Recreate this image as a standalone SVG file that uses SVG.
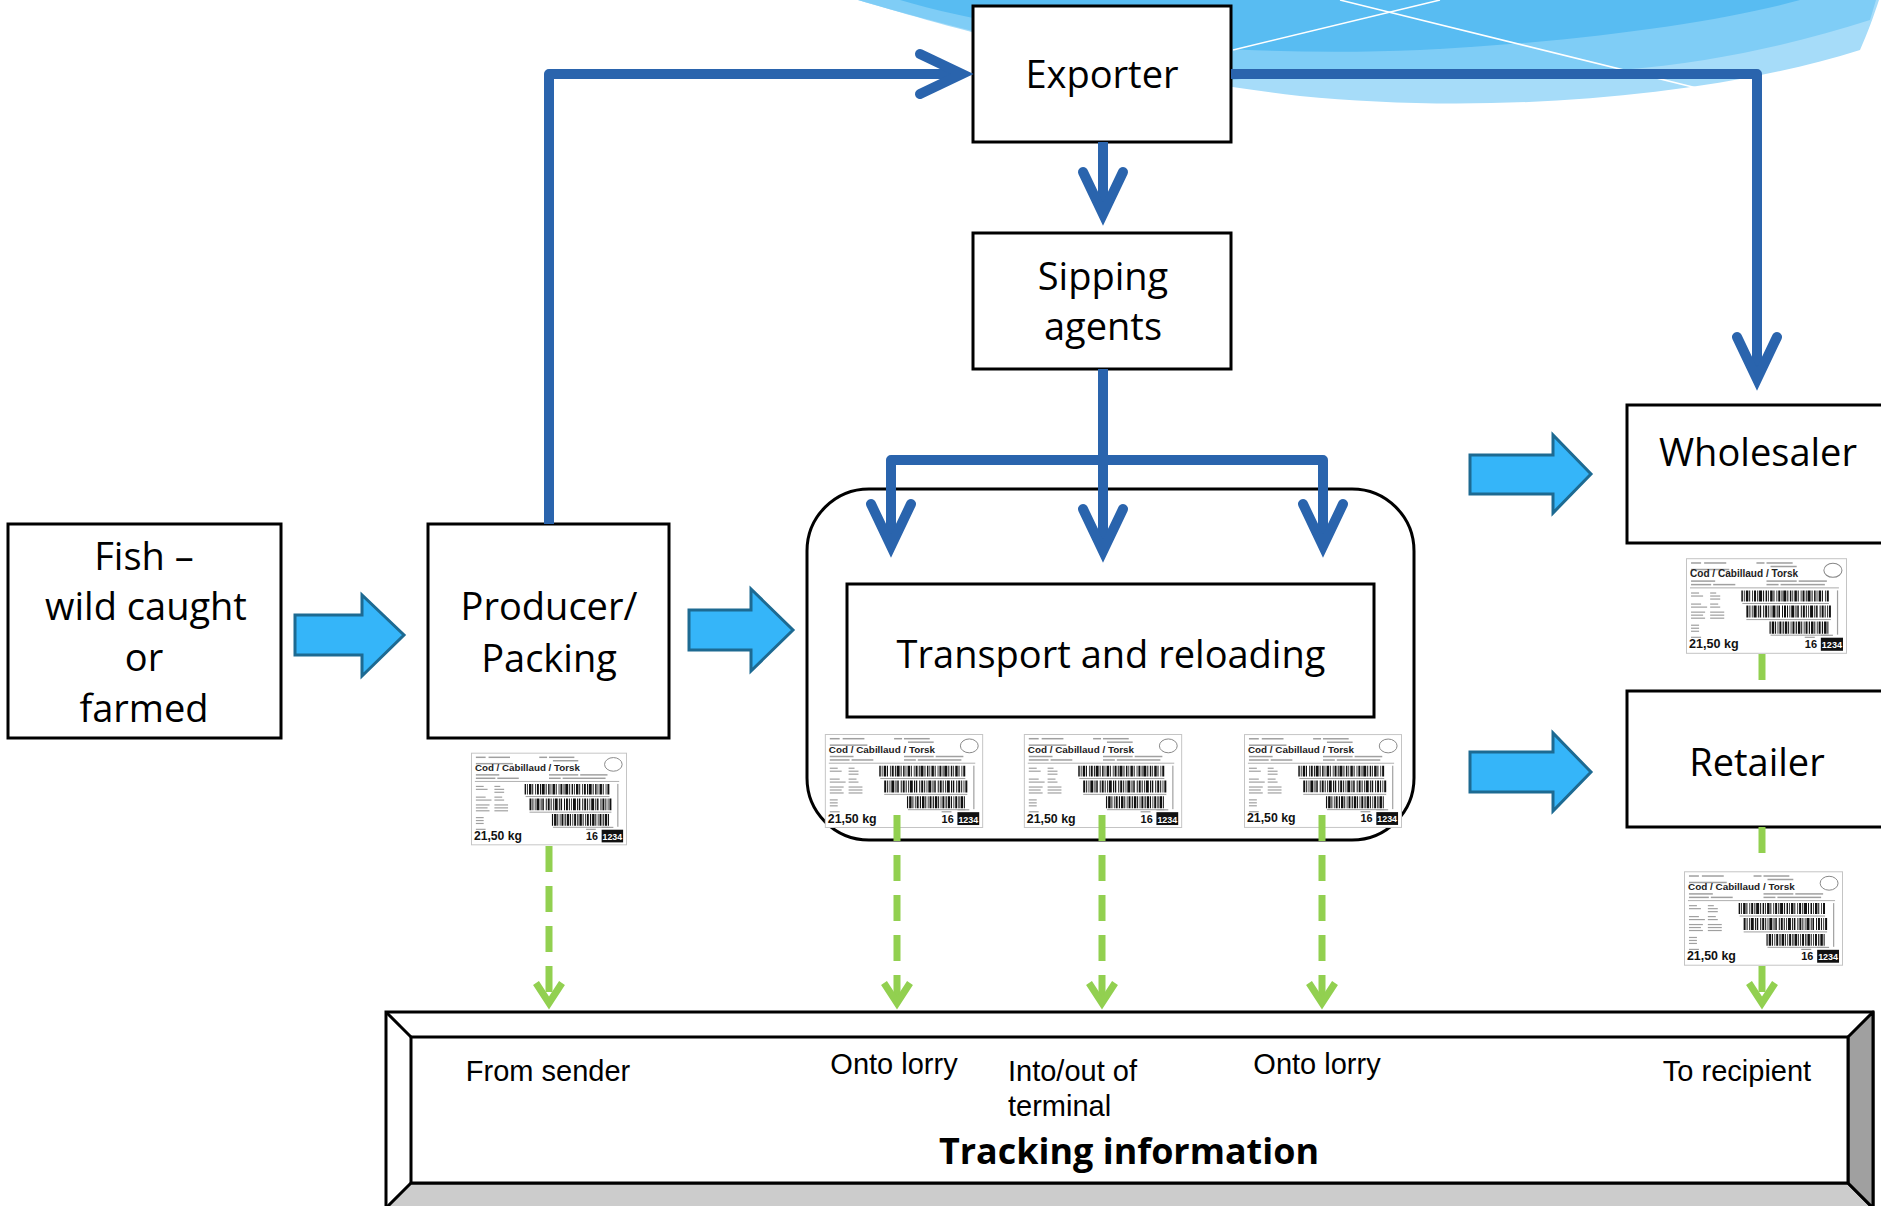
<svg xmlns="http://www.w3.org/2000/svg" width="1881" height="1206" viewBox="0 0 1881 1206">
<style>
.box{fill:#fff;stroke:#000;stroke-width:3}
.nt{font-family:"Open Sans","DejaVu Sans",sans-serif;font-size:38px;fill:#000;text-anchor:middle}
.tt{font-family:"Liberation Sans",Arial,sans-serif;font-size:29px;fill:#000}
.tb{font-family:"Open Sans","DejaVu Sans",sans-serif;font-size:36px;font-weight:bold;fill:#000;text-anchor:middle}
.blue{fill:none;stroke:#2A64AD;stroke-width:10;stroke-linejoin:round}
.green{fill:none;stroke:#92D050;stroke-width:7;stroke-dasharray:26 14}
.fat{fill:#35B5F9;stroke:#1D6A92;stroke-width:3}
</style>
<defs>
<marker id="chev" markerUnits="userSpaceOnUse" orient="auto" markerWidth="80" markerHeight="80" refX="0" refY="0" viewBox="-50 -40 80 80" overflow="visible">
<path d="M-42,-20 L0,0 L-42,20" fill="none" stroke="#2A64AD" stroke-width="10" stroke-linecap="round" stroke-linejoin="miter"/>
</marker>
<marker id="gchev" markerUnits="userSpaceOnUse" orient="auto" markerWidth="50" markerHeight="50" refX="0" refY="0" viewBox="-30 -25 50 50" overflow="visible">
<path d="M-20,-13 L0,0 L-20,13" fill="none" stroke="#92D050" stroke-width="7" stroke-linejoin="miter"/>
</marker>
<symbol id="lbl" viewBox="0 0 160 95">
<rect x="0.5" y="0.5" width="159" height="94" fill="#fff" stroke="#c4c4c4" stroke-width="1"/>
<g fill="#a0a0a0">
<rect x="5" y="4" width="10" height="1.5"/><rect x="18" y="4" width="22" height="1.5"/>
<rect x="70" y="4" width="8" height="1.5"/><rect x="80" y="4" width="26" height="1.5"/>
<rect x="84" y="7.5" width="26" height="1.5"/>
<rect x="5" y="10.5" width="38" height="1.5"/>
<rect x="5" y="22" width="24" height="1.5"/>
<rect x="5" y="25.5" width="20" height="1.5"/><rect x="27" y="25.5" width="22" height="1.5"/>
<rect x="80" y="22" width="30" height="1.5"/><rect x="112" y="22" width="28" height="1.5"/>
<rect x="80" y="25.5" width="12" height="1.5"/><rect x="94" y="25.5" width="44" height="1.5"/>
<rect x="5" y="34" width="8" height="1.2"/><rect x="24" y="34" width="6" height="1.2"/>
<rect x="5" y="37" width="12" height="1.2"/><rect x="24" y="37" width="10" height="1.2"/>
<rect x="24" y="40" width="10" height="1.2"/>
<rect x="5" y="45" width="10" height="1.2"/><rect x="24" y="45" width="8" height="1.2"/>
<rect x="5" y="48" width="16" height="1.2"/><rect x="24" y="48" width="10" height="1.2"/>
<rect x="5" y="53" width="14" height="1.2"/><rect x="24" y="53" width="14" height="1.2"/>
<rect x="5" y="56" width="12" height="1.2"/><rect x="24" y="56" width="14" height="1.2"/>
<rect x="5" y="59" width="14" height="1.2"/><rect x="24" y="59" width="14" height="1.2"/>
<rect x="5" y="66" width="8" height="1.2"/><rect x="5" y="69" width="8" height="1.2"/><rect x="5" y="72" width="8" height="1.2"/>
<rect x="5" y="78" width="10" height="1.2"/>
<rect x="56" y="44.5" width="86" height="1"/><rect x="60" y="60.5" width="84" height="1"/><rect x="84" y="76" width="58" height="1"/>
<rect x="118" y="78" width="10" height="1.2"/><rect x="134" y="76" width="12" height="1.2"/>
<rect x="150" y="32" width="1.2" height="44"/>
</g>
<text x="4" y="19" font-family="Liberation Sans, Arial, sans-serif" font-size="10" font-weight="bold" fill="#222">Cod / Cabillaud / Torsk</text>
<ellipse cx="146" cy="12" rx="9" ry="7" fill="none" stroke="#888" stroke-width="1"/>
<line x1="4" y1="29.5" x2="152" y2="29.5" stroke="#999" stroke-width="0.8"/>
<g stroke="#111" fill="none">
<line x1="55" y1="37.5" x2="143" y2="37.5" stroke-width="11" stroke-dasharray="1.5 1 0.8 1.2 2.5 0.8 1 2 0.8 1 2 1.2 1 0.8 3 1 1 1.5"/>
<line x1="60" y1="53" x2="144" y2="53" stroke-width="12" stroke-dasharray="2 1 1 1.4 0.8 1 3 1.2 1 0.8 1.5 2 1 1"/>
<line x1="83" y1="69" x2="143" y2="69" stroke-width="12" stroke-dasharray="1.2 1 2.5 0.8 1 1.5 0.8 1 2 1.2"/>
</g>
<text x="3" y="89.5" font-family="Liberation Sans, Arial, sans-serif" font-size="12.5" font-weight="bold" fill="#111">21,50 kg</text>
<text x="118" y="89.5" font-family="Liberation Sans, Arial, sans-serif" font-size="11" font-weight="bold" fill="#111">16</text>
<rect x="134" y="79" width="22" height="13" fill="#111"/>
<text x="145" y="89.5" font-family="Liberation Sans, Arial, sans-serif" font-size="9" font-weight="bold" fill="#fff" text-anchor="middle">1234</text>
</symbol>
</defs>

<rect width="1881" height="1206" fill="#fff"/>

<g id="background-wave">
<path d="M858,0 C940,24 1100,72 1300,96 C1480,114 1700,100 1860,50 C1868,32 1874,15 1879,0 Z" fill="#A6DCF9"/>
<path d="M858,0 C940,24 1090,64 1233,80 C1300,72 1500,76 1620,70 C1720,62 1800,42 1870,20 L1876,0 Z" fill="#7FCDF6"/>
<path d="M900,0 C1030,38 1230,58 1420,50 C1580,42 1720,22 1800,0 Z" fill="#58BCF2"/>
<path d="M1233,50 L1440,0" stroke="#fff" stroke-width="1.5" fill="none"/>
<path d="M1340,0 L1713,92" stroke="#fff" stroke-width="1.5" fill="none"/>
</g>

<g id="node-fish">
<rect class="box" x="8" y="524" width="273" height="214"/>
<text class="nt" x="144" y="570">Fish –</text>
<text class="nt" x="146" y="620">wild caught</text>
<text class="nt" x="144" y="671">or</text>
<text class="nt" x="144" y="722">farmed</text>
</g>

<g id="node-producer">
<rect class="box" x="428" y="524" width="241" height="214"/>
<text class="nt" x="549" y="620">Producer/</text>
<text class="nt" x="549" y="672">Packing</text>
<use href="#lbl" x="471" y="752" width="156" height="94"/>
</g>

<g id="node-exporter">
<rect class="box" x="973" y="6" width="258" height="136"/>
<text class="nt" x="1102" y="88">Exporter</text>
</g>

<g id="node-shipping-agents">
<rect class="box" x="973" y="233" width="258" height="136"/>
<text class="nt" x="1103" y="290">Sipping</text>
<text class="nt" x="1103" y="340">agents</text>
</g>

<g id="node-transport-group">
<rect x="807" y="489" width="607" height="351" rx="62" ry="62" fill="#fff" stroke="#000" stroke-width="3"/>
<use href="#lbl" x="823" y="734" width="162" height="94"/>
<use href="#lbl" x="1023" y="734" width="160" height="94"/>
<use href="#lbl" x="1244" y="734" width="158" height="94"/>
</g>

<g id="node-transport">
<rect class="box" x="847" y="584" width="527" height="133"/>
<text class="nt" x="1111" y="668">Transport and reloading</text>
</g>

<g id="node-wholesaler">
<rect class="box" x="1627" y="405" width="260" height="138"/>
<text class="nt" x="1758" y="466" textLength="198">Wholesaler</text>
<use href="#lbl" x="1686" y="558" width="161" height="96"/>
</g>

<g id="node-retailer">
<rect class="box" x="1627" y="691" width="260" height="136"/>
<text class="nt" x="1757" y="776">Retailer</text>
<use href="#lbl" x="1684" y="871" width="159" height="95"/>
</g>

<g id="node-tracking">
<rect x="386" y="1012" width="1487" height="196" fill="#fff" stroke="#000" stroke-width="3"/>
<polygon points="386,1208 411,1183 1848,1183 1873,1208" fill="#CCCCCC" stroke="#000" stroke-width="3" stroke-linejoin="round"/>
<polygon points="1873,1012 1848,1037 1848,1183 1873,1208" fill="#A0A0A0" stroke="#000" stroke-width="3" stroke-linejoin="round"/>
<line x1="386" y1="1012" x2="411" y2="1037" stroke="#000" stroke-width="3"/>
<rect x="411" y="1037" width="1437" height="146" fill="#fff" stroke="#000" stroke-width="3"/>
<text class="tt" x="548" y="1081" text-anchor="middle">From sender</text>
<text class="tt" x="894" y="1074" text-anchor="middle">Onto lorry</text>
<text class="tt" x="1008" y="1081">Into/out of</text>
<text class="tt" x="1008" y="1116">terminal</text>
<text class="tt" x="1317" y="1074" text-anchor="middle">Onto lorry</text>
<text class="tt" x="1737" y="1081" text-anchor="middle">To recipient</text>
<text class="tb" x="1129" y="1164" textLength="380" lengthAdjust="spacingAndGlyphs">Tracking information</text>
</g>

<g id="connectors">
<path class="blue" d="M549,524 L549,74 L962,74" marker-end="url(#chev)"/>
<path class="blue" d="M1231,74 L1757,74 L1757,379" marker-end="url(#chev)"/>
<path class="blue" d="M1103,142 L1103,214" marker-end="url(#chev)"/>
<path class="blue" d="M1103,369 L1103,551" marker-end="url(#chev)"/>
<path class="blue" d="M1103,460 L891,460 L891,546" marker-end="url(#chev)"/>
<path class="blue" d="M1103,460 L1323,460 L1323,546" marker-end="url(#chev)"/>

<polygon class="fat" points="295,615 362,615 362,595 404,635 362,676 362,655 295,655"/>
<polygon class="fat" points="689,610 751,610 751,589 793,630 751,671 751,650 689,650"/>
<polygon class="fat" points="1470,455 1553,455 1553,435 1591,474 1553,513 1553,494 1470,494"/>
<polygon class="fat" points="1470,752 1553,752 1553,733 1591,772 1553,811 1553,792 1470,792"/>

<path class="green" d="M549,846 L549,1003" marker-end="url(#gchev)"/>
<path class="green" d="M897,815 L897,1003" marker-end="url(#gchev)"/>
<path class="green" d="M1102,815 L1102,1003" marker-end="url(#gchev)"/>
<path class="green" d="M1322,815 L1322,1003" marker-end="url(#gchev)"/>
<path class="green" d="M1762,654 L1762,691"/>
<path class="green" d="M1762,827 L1762,866"/>
<path class="green" d="M1762,966 L1762,1003" marker-end="url(#gchev)"/>
</g>
</svg>
